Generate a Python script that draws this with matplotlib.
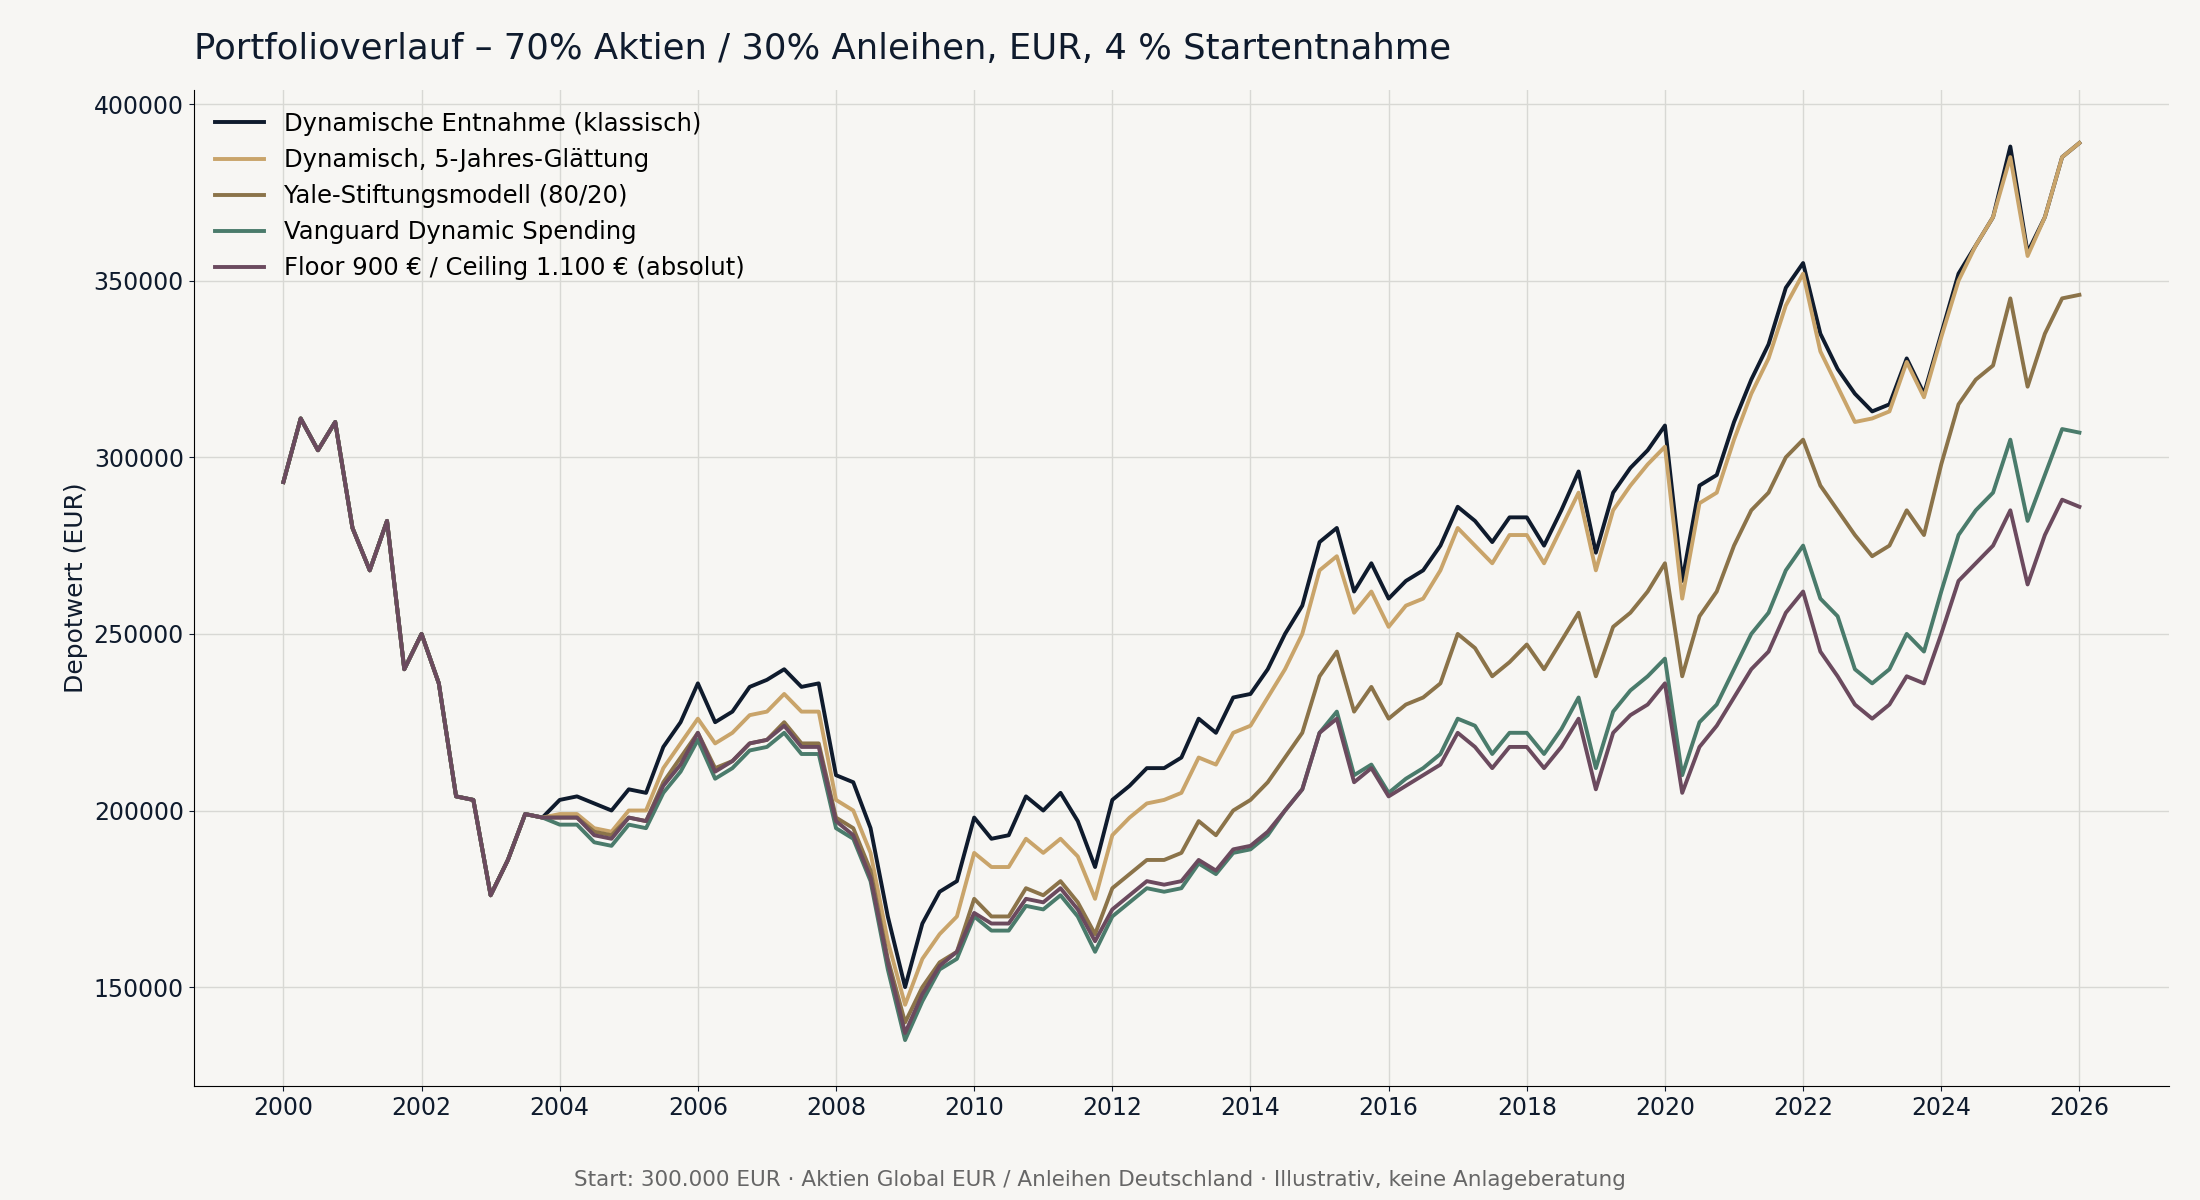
import numpy as np
import matplotlib.pyplot as plt

# quarterly values in thousand EUR, 2000Q1 .. 2026Q1
early = [293, 311, 302, 310,
         280, 268, 282, 240,
         250, 236, 204, 203,
         176, 186, 199, 198]

klassisch = early + [203, 204, 202, 200, 206, 205, 218, 225, 236, 225, 228, 235,
    237, 240, 235, 236, 210, 208, 195, 170, 150, 168, 177, 180,
    198, 192, 193, 204, 200, 205, 197, 184, 203, 207, 212, 212,
    215, 226, 222, 232, 233, 240, 250, 258, 276, 280, 262, 270,
    260, 265, 268, 275, 286, 282, 276, 283, 283, 275, 285, 296,
    273, 290, 297, 302, 309, 265, 292, 295, 310, 322, 332, 348,
    355, 335, 325, 318, 313, 315, 328, 318, 335, 352, 360, 368,
    388, 358, 368, 385, 389]
glaettung = early + [199, 199, 195, 194, 200, 200, 212, 219, 226, 219, 222, 227,
    228, 233, 228, 228, 203, 200, 188, 163, 145, 158, 165, 170,
    188, 184, 184, 192, 188, 192, 187, 175, 193, 198, 202, 203,
    205, 215, 213, 222, 224, 232, 240, 250, 268, 272, 256, 262,
    252, 258, 260, 268, 280, 275, 270, 278, 278, 270, 280, 290,
    268, 285, 292, 298, 303, 260, 287, 290, 305, 318, 328, 343,
    352, 330, 320, 310, 311, 313, 327, 317, 334, 350, 360, 368,
    385, 357, 368, 385, 389]
yale = early + [198, 198, 194, 193, 198, 197, 208, 215, 222, 212, 214, 219,
    220, 225, 219, 219, 198, 195, 183, 158, 140, 150, 157, 160,
    175, 170, 170, 178, 176, 180, 174, 165, 178, 182, 186, 186,
    188, 197, 193, 200, 203, 208, 215, 222, 238, 245, 228, 235,
    226, 230, 232, 236, 250, 246, 238, 242, 247, 240, 248, 256,
    238, 252, 256, 262, 270, 238, 255, 262, 275, 285, 290, 300,
    305, 292, 285, 278, 272, 275, 285, 278, 298, 315, 322, 326,
    345, 320, 335, 345, 346]
vanguard = early + [196, 196, 191, 190, 196, 195, 205, 211, 220, 209, 212, 217,
    218, 222, 216, 216, 195, 192, 180, 155, 135, 146, 155, 158,
    170, 166, 166, 173, 172, 176, 170, 160, 170, 174, 178, 177,
    178, 185, 182, 188, 189, 193, 200, 206, 222, 228, 210, 213,
    205, 209, 212, 216, 226, 224, 216, 222, 222, 216, 223, 232,
    212, 228, 234, 238, 243, 210, 225, 230, 240, 250, 256, 268,
    275, 260, 255, 240, 236, 240, 250, 245, 262, 278, 285, 290,
    305, 282, 295, 308, 307]
floor = early + [198, 198, 193, 192, 198, 197, 207, 213, 222, 211, 214, 219,
    220, 224, 218, 218, 197, 193, 181, 157, 137, 148, 156, 160,
    171, 168, 168, 175, 174, 178, 172, 163, 172, 176, 180, 179,
    180, 186, 183, 189, 190, 194, 200, 206, 222, 226, 208, 212,
    204, 207, 210, 213, 222, 218, 212, 218, 218, 212, 218, 226,
    206, 222, 227, 230, 236, 205, 218, 224, 232, 240, 245, 256,
    262, 245, 238, 230, 226, 230, 238, 236, 250, 265, 270, 275,
    285, 264, 278, 288, 286]

labels = ["Dynamische Entnahme (klassisch)", "Dynamisch, 5-Jahres-Glättung",
          "Yale-Stiftungsmodell (80/20)", "Vanguard Dynamic Spending",
          "Floor 900 € / Ceiling 1.100 € (absolut)"]
series = [klassisch, glaettung, yale, vanguard, floor]
colors = ["#0f1b2d", "#c9a46a", "#8b7349", "#4a7b6b", "#6b4a5e"]

bg = "#f7f6f3"
fig, ax = plt.subplots(figsize=(22, 12), dpi=100)
fig.patch.set_facecolor(bg)
ax.set_facecolor(bg)
fig.subplots_adjust(left=0.088, right=0.986, top=0.925, bottom=0.095)

x = 2000 + np.arange(len(klassisch)) * 0.25
for s, c, l in zip(series, colors, labels):
    ax.plot(x, np.array(s) * 1000, color=c, lw=2.8, label=l)

ax.legend(loc="upper left", frameon=False, fontsize=17.5)

ax.set_xlim(1998.7, 2027.3)
ax.set_ylim(122000, 404000)
ax.set_xticks(range(2000, 2027, 2))
ax.set_yticks(range(150000, 400001, 50000))
ax.tick_params(labelsize=17, colors="#0f1b2d")
ax.grid(True, color="#d8d8d4", lw=1)
for sp in ["top", "right"]:
    ax.spines[sp].set_visible(False)
ax.set_ylabel("Depotwert (EUR)", fontsize=18, color="#0f1b2d")
ax.set_title("Portfolioverlauf – 70% Aktien / 30% Anleihen, EUR, 4 % Startentnahme",
             loc="left", fontsize=25.5, color="#0f1b2d", pad=22)
fig.text(0.5, 0.012, "Start: 300.000 EUR · Aktien Global EUR / Anleihen Deutschland · Illustrativ, keine Anlageberatung",
         ha="center", fontsize=15.5, color="#666666")

fig.savefig("out.png", facecolor=bg)
